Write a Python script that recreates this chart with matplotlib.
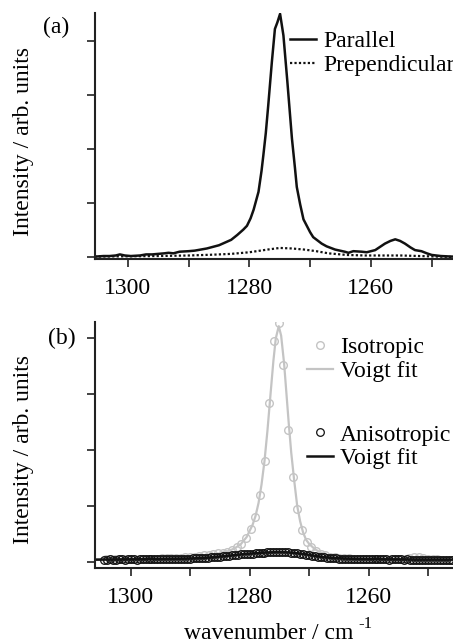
import numpy as np
import matplotlib
matplotlib.use("Agg")
import matplotlib.pyplot as plt
from matplotlib.ticker import MultipleLocator

plt.rcParams['font.family'] = ['Liberation Serif', 'DejaVu Serif']
plt.rcParams['font.size'] = 17

# --- panel (a): polarised spectra ---
par_wn = [1305.3, 1304.0, 1303.0, 1302.0, 1301.3, 1300.5, 1299.5, 1298.0, 1297.0, 1296.0,
          1295.0, 1294.0, 1293.3, 1292.5, 1291.5, 1290.0, 1289.0, 1288.0, 1287.0, 1286.0,
          1285.0, 1284.0, 1283.0, 1282.0, 1281.0, 1280.4, 1279.8, 1279.3, 1278.5, 1278.0,
          1277.7, 1277.3, 1276.9, 1276.3, 1275.8, 1275.4, 1274.95, 1274.4, 1273.75, 1273.0,
          1272.5, 1272.2, 1271.65, 1271.1, 1270.0, 1269.5, 1268.1, 1267.3, 1265.9, 1264.3,
          1263.7, 1262.9, 1261.5, 1260.7, 1259.3, 1258.5, 1257.7, 1256.8, 1256.0, 1255.2,
          1254.4, 1253.5, 1252.75, 1251.7, 1250.8, 1250.0, 1248.5, 1246.7, 1245.5]
par_int = [0.01, 0.02, 0.02, 0.03, 0.05, 0.03, 0.02, 0.03, 0.05, 0.05,
           0.06, 0.07, 0.08, 0.07, 0.10, 0.11, 0.12, 0.14, 0.16, 0.19,
           0.22, 0.27, 0.32, 0.41, 0.51, 0.58, 0.72, 0.88, 1.21, 1.60,
           1.89, 2.30, 2.81, 3.62, 4.23, 4.35, 4.51, 4.11, 3.25, 2.20,
           1.65, 1.30, 0.98, 0.70, 0.46, 0.37, 0.25, 0.20, 0.14, 0.10,
           0.08, 0.11, 0.10, 0.09, 0.13, 0.19, 0.25, 0.30, 0.33, 0.30,
           0.25, 0.18, 0.13, 0.11, 0.07, 0.04, 0.02, 0.01, 0.01]

perp_wn = [1305.5, 1300.0, 1295.0, 1290.0, 1286.0, 1283.0, 1280.0, 1277.0, 1275.0, 1273.0,
           1271.0, 1269.0, 1267.0, 1264.0, 1261.0, 1258.0, 1255.0, 1252.0, 1249.0, 1245.5]
perp_int = [0.01, 0.015, 0.02, 0.03, 0.045, 0.06, 0.09, 0.14, 0.17, 0.16,
            0.14, 0.11, 0.07, 0.04, 0.03, 0.03, 0.03, 0.02, 0.01, 0.0]

# --- panel (b): isotropic spectrum + Voigt fit ---
iso_wn = [1304.15, 1303.36, 1302.58, 1301.79, 1301.01, 1300.22, 1299.44, 1298.65, 1297.87, 1297.08,
          1296.30, 1295.51, 1294.73, 1293.94, 1293.16, 1292.37, 1291.59, 1290.80, 1290.02, 1289.23,
          1288.45, 1287.66, 1286.88, 1286.09, 1285.31, 1284.52, 1283.74, 1282.95, 1282.17, 1281.38,
          1280.60, 1279.81, 1279.03, 1278.24, 1277.46, 1276.67, 1275.89, 1275.10, 1274.32, 1273.53,
          1272.75, 1271.96, 1271.18, 1270.39, 1269.61, 1268.82, 1268.04, 1267.25, 1266.47, 1265.68,
          1264.90, 1264.11, 1263.33, 1262.54, 1261.76, 1260.97, 1260.19, 1259.40, 1258.62, 1257.83,
          1257.05, 1256.26, 1255.48, 1254.69, 1253.91, 1253.12, 1252.34, 1251.55, 1250.77, 1249.98,
          1249.20, 1248.41, 1247.63, 1246.84, 1246.06]
iso_int = [0.04, 0.04, 0.04, 0.04, 0.04, 0.04, 0.05, 0.04, 0.05, 0.05,
           0.05, 0.05, 0.06, 0.06, 0.06, 0.07, 0.07, 0.08, 0.08, 0.09,
           0.10, 0.11, 0.12, 0.13, 0.15, 0.16, 0.18, 0.21, 0.26, 0.32,
           0.42, 0.58, 0.80, 1.20, 1.80, 2.85, 3.96, 4.27, 3.52, 2.35,
           1.52, 0.95, 0.56, 0.35, 0.26, 0.19, 0.14, 0.11, 0.09, 0.08,
           0.07, 0.06, 0.06, 0.05, 0.05, 0.05, 0.04, 0.04, 0.04, 0.04,
           0.04, 0.04, 0.04, 0.04, 0.05, 0.06, 0.08, 0.09, 0.07, 0.05,
           0.04, 0.04, 0.03, 0.03, 0.03]

iso_fit_wn = [1306.0, 1300.0, 1295.0, 1290.0, 1287.0, 1285.0, 1283.5, 1282.5, 1281.5, 1280.5,
              1279.5, 1279.0, 1278.5, 1278.0, 1277.5, 1277.0, 1276.5, 1276.0, 1275.6, 1275.1,
              1274.7, 1274.2, 1273.8, 1273.4, 1273.0, 1272.5, 1272.0, 1271.5, 1271.0, 1270.5,
              1270.0, 1269.0, 1268.0, 1267.0, 1265.0, 1262.0, 1258.0, 1252.0, 1246.0]
iso_fit = [0.04, 0.045, 0.055, 0.08, 0.11, 0.15, 0.19, 0.24, 0.31, 0.44,
           0.66, 0.82, 1.05, 1.38, 1.80, 2.35, 2.98, 3.60, 4.00, 4.22,
           4.05, 3.55, 3.00, 2.45, 1.95, 1.45, 1.00, 0.72, 0.52, 0.39,
           0.32, 0.22, 0.16, 0.12, 0.08, 0.06, 0.05, 0.045, 0.04]

# --- panel (b): anisotropic spectrum + Voigt fit ---
aniso_wn = [1304.5, 1304.0, 1303.5, 1303.0, 1302.5, 1302.0, 1301.5, 1301.0, 1300.5, 1300.0,
            1299.5, 1299.0, 1298.5, 1298.0, 1297.5, 1297.0, 1296.5, 1296.0, 1295.5, 1295.0,
            1294.5, 1294.0, 1293.5, 1293.0, 1292.5, 1292.0, 1291.5, 1291.0, 1290.5, 1290.0,
            1289.5, 1289.0, 1288.5, 1288.0, 1287.5, 1287.0, 1286.5, 1286.0, 1285.5, 1285.0,
            1284.5, 1284.0, 1283.5, 1283.0, 1282.5, 1282.0, 1281.5, 1281.0, 1280.5, 1280.0,
            1279.5, 1279.0, 1278.5, 1278.0, 1277.5, 1277.0, 1276.5, 1276.0, 1275.5, 1275.0,
            1274.5, 1274.0, 1273.5, 1273.0, 1272.5, 1272.0, 1271.5, 1271.0, 1270.5, 1270.0,
            1269.5, 1269.0, 1268.5, 1268.0, 1267.5, 1267.0, 1266.5, 1266.0, 1265.5, 1265.0,
            1264.5, 1264.0, 1263.5, 1263.0, 1262.5, 1262.0, 1261.5, 1261.0, 1260.5, 1260.0,
            1259.5, 1259.0, 1258.5, 1258.0, 1257.5, 1257.0, 1256.5, 1256.0, 1255.5, 1255.0,
            1254.5, 1254.0, 1253.5, 1253.0, 1252.5, 1252.0, 1251.5, 1251.0, 1250.5, 1250.0,
            1249.5, 1249.0, 1248.5, 1248.0, 1247.5, 1247.0, 1246.5, 1246.0]
aniso_int = [0.035, 0.035, 0.040, 0.035, 0.035, 0.040, 0.040, 0.035, 0.040, 0.040,
             0.040, 0.035, 0.040, 0.040, 0.040, 0.045, 0.040, 0.040, 0.045, 0.045,
             0.045, 0.045, 0.050, 0.045, 0.050, 0.050, 0.050, 0.055, 0.055, 0.055,
             0.060, 0.060, 0.065, 0.065, 0.070, 0.070, 0.075, 0.080, 0.085, 0.090,
             0.095, 0.100, 0.105, 0.110, 0.120, 0.125, 0.130, 0.135, 0.140, 0.140,
             0.145, 0.150, 0.155, 0.155, 0.160, 0.165, 0.165, 0.170, 0.170, 0.170,
             0.170, 0.170, 0.165, 0.160, 0.155, 0.150, 0.145, 0.135, 0.125, 0.115,
             0.105, 0.100, 0.090, 0.085, 0.080, 0.070, 0.065, 0.065, 0.060, 0.055,
             0.055, 0.050, 0.050, 0.050, 0.045, 0.045, 0.045, 0.040, 0.040, 0.040,
             0.040, 0.040, 0.040, 0.040, 0.040, 0.040, 0.035, 0.040, 0.040, 0.040,
             0.040, 0.035, 0.040, 0.035, 0.035, 0.035, 0.035, 0.035, 0.035, 0.035,
             0.035, 0.035, 0.035, 0.030, 0.035, 0.035, 0.035, 0.035]

aniso_fit_wn = [1306.0, 1300.0, 1295.0, 1290.0, 1287.0, 1285.0, 1283.0, 1281.0, 1279.0, 1277.0,
                1275.2, 1273.5, 1272.0, 1270.5, 1269.0, 1267.5, 1266.0, 1264.0, 1261.0, 1256.0,
                1250.0, 1246.0]
aniso_fit = [0.035, 0.04, 0.045, 0.055, 0.07, 0.09, 0.11, 0.135, 0.15, 0.163,
             0.17, 0.165, 0.15, 0.13, 0.10, 0.08, 0.065, 0.055, 0.045, 0.04,
             0.035, 0.035]

W, H = 453, 643
fig = plt.figure(figsize=(W / 100, H / 100), dpi=100)
ax_a = fig.add_axes([95 / W, 1 - 259 / H, 1 - 95 / W, (259 - 13.3) / H])
ax_b = fig.add_axes([95 / W, 1 - 568.3 / H, 1 - 95 / W, (568.3 - 321.7) / H])

grey = '#c4c4c4'
ink = '#111111'

ax_a.plot(par_wn, par_int, color=ink, lw=1.8, label='Parallel')
ax_a.plot(perp_wn, perp_int, color=ink, lw=1.6, ls=(0, (1, 1)), label='Prependicular')
ax_a.set_xlim(1305.4, 1246.5)
ax_a.set_ylim(-0.035, 4.52)

ax_b.plot(iso_wn, iso_int, ls='none', marker='o', ms=5.5, mfc='none', mec=grey, mew=1.0,
          label='Isotropic')
ax_b.plot(iso_fit_wn, iso_fit, color=grey, lw=1.6, label='Voigt fit')
ax_b.plot(aniso_wn, aniso_int, ls='none', marker='o', ms=5.5, mfc='none', mec=ink, mew=0.9,
          label='Anisotropic')
ax_b.plot(aniso_fit_wn, aniso_fit, color=ink, lw=1.8, label='Voigt fit')
ax_b.set_xlim(1306.0, 1245.8)
ax_b.set_ylim(-0.12, 4.3)

for ax in (ax_a, ax_b):
    for s in ('top', 'right'):
        ax.spines[s].set_visible(False)
    for s in ('left', 'bottom'):
        ax.spines[s].set_linewidth(1.5)
        ax.spines[s].set_color('#222222')
    ax.xaxis.set_major_locator(MultipleLocator(20))
    ax.xaxis.set_minor_locator(MultipleLocator(10))
    ax.yaxis.set_major_locator(MultipleLocator(1))
    ax.set_yticklabels([])
    ax.tick_params(which='both', direction='out', length=5.5, width=1.2, color='#222222',
                   labelsize=17, pad=8)
    ax.set_facecolor('none')

leg_kw = dict(frameon=False, borderpad=0, borderaxespad=0, handlelength=1.1,
              handletextpad=0.3, labelspacing=0.1, fontsize=17, loc='upper left')
ax_a.legend(bbox_to_anchor=(0.545, 0.93), **leg_kw)

h, l = ax_b.get_legend_handles_labels()
leg1 = ax_b.legend(h[:2], l[:2], bbox_to_anchor=(0.592, 0.94), **leg_kw)
ax_b.add_artist(leg1)
ax_b.legend(h[2:], l[2:], bbox_to_anchor=(0.592, 0.585), **leg_kw)

fig.text(43 / W, 1 - 27 / H, '(a)', va='center', ha='left', fontsize=17)
fig.text(48 / W, 1 - 338 / H, '(b)', va='center', ha='left', fontsize=17)
fig.text(24 / W, 1 - 142 / H, 'Intensity / arb. units', rotation=90, va='center', ha='center',
         fontsize=17)
fig.text(24 / W, 1 - 449 / H, 'Intensity / arb. units', rotation=90, va='center', ha='center',
         fontsize=17)
fig.text(269 / W, 1 - 639 / H, 'wavenumber / cm', ha='center', va='baseline', fontsize=17)
fig.text(358 / W, 1 - 628 / H, '-1', ha='left', va='baseline', fontsize=12)

fig.savefig('out.png', dpi=100)
